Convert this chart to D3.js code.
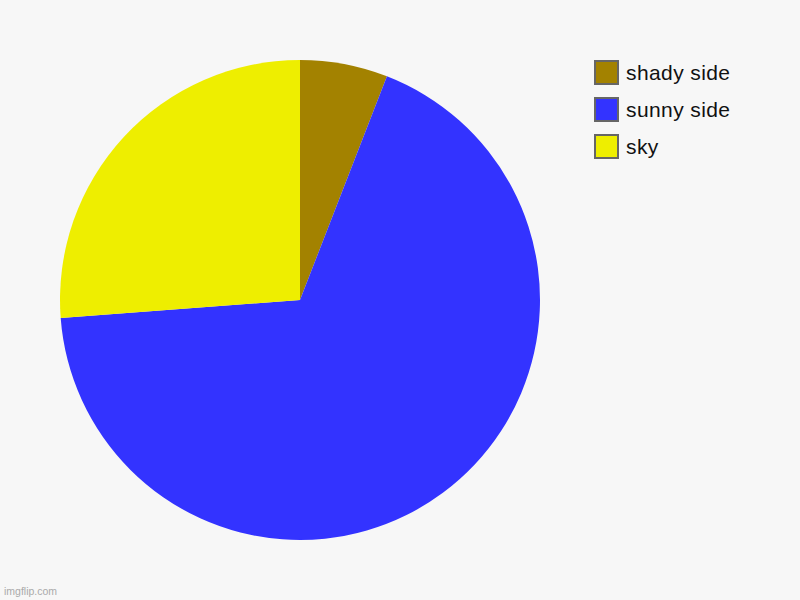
<!DOCTYPE html>
<html>
<head>
<meta charset="utf-8">
<script src="https://cdn.jsdelivr.net/npm/d3@7"></script>
<style>
  body { margin: 0; background: #f7f7f7; }
</style>
</head>
<body>
<svg></svg>
<script>
// data
const labels = ["shady side", "sunny side", "sky"];
const values = [5.9, 67.9, 26.2];
const colors = ["#a38200", "#3333ff", "#eeee00"];

const svg = d3.select("svg")
    .attr("width", 800)
    .attr("height", 600)
    .style("font-family", "Arial, 'Liberation Sans', sans-serif");

svg.append("rect")
    .attr("width", 800).attr("height", 600)
    .attr("fill", "#f7f7f7");

const pie = d3.pie().sort(null).value(d => d.value);
const arc = d3.arc().innerRadius(0).outerRadius(240);

const data = labels.map((l, i) => ({ label: l, value: values[i], color: colors[i] }));

svg.append("g")
    .attr("transform", "translate(300,300)")
    .selectAll("path")
    .data(pie(data))
    .enter()
    .append("path")
    .attr("d", arc)
    .attr("fill", d => d.data.color);

// legend
const legend = svg.append("g")
    .attr("transform", "translate(595,61)");

const item = legend.selectAll("g")
    .data(data)
    .enter()
    .append("g")
    .attr("transform", (d, i) => `translate(0,${i * 37})`);

item.append("rect")
    .attr("width", 23)
    .attr("height", 23)
    .attr("fill", d => d.color)
    .attr("stroke", "#666")
    .attr("stroke-width", 2);

item.append("text")
    .attr("x", 31)
    .attr("y", 19)
    .attr("font-size", 21)
    .attr("letter-spacing", 0.4)
    .attr("fill", "#111")
    .text(d => d.label);

// watermark
svg.append("text")
    .attr("x", 4)
    .attr("y", 595)
    .attr("font-size", 10.5)
    .attr("fill", "#aaa")
    .text("imgflip.com");
</script>
</body>
</html>
